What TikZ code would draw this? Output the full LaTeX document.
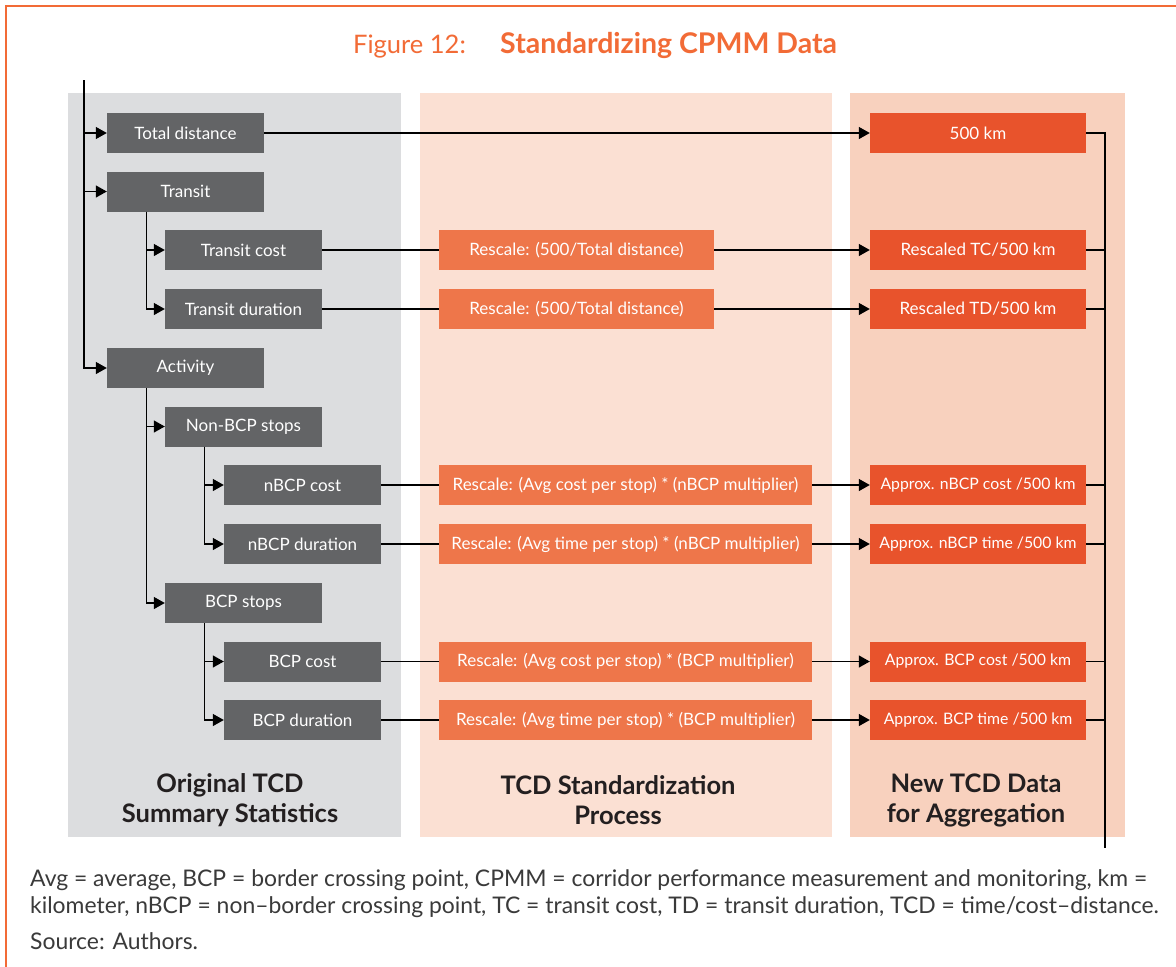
\documentclass[tikz,border=0pt]{standalone}
\usepackage{fontspec}
\setmainfont{Lato}
\usetikzlibrary{arrows.meta}

\definecolor{frameorange}{HTML}{F26B36}
\definecolor{panelgray}{HTML}{DCDDDF}
\definecolor{panelpeach}{HTML}{FBE0D3}
\definecolor{panelsalmon}{HTML}{F8D1BE}
\definecolor{boxgray}{HTML}{636466}
\definecolor{boxorange}{HTML}{EE764A}
\definecolor{boxred}{HTML}{E8532C}
\definecolor{inkdark}{HTML}{231F20}
\definecolor{notegray}{HTML}{3A3A3A}

\tikzset{
  basebox/.style={text=white, minimum height=40pt, inner sep=0pt,
    font=\fontsize{17}{20}\selectfont},
  graybox/.style={basebox, fill=boxgray, minimum width=157pt},
  rescbox/.style={basebox, fill=boxorange},
  outbox/.style={basebox, fill=boxred, minimum width=216pt},
  smalltext/.style={font=\fontsize{15.8}{19}\selectfont},
  link/.style={line width=1.3pt, draw=black},
  arrowlink/.style={link, -{Triangle[length=11pt,width=12pt]}},
  paneltitle/.style={align=center, text=inkdark,
    font=\fontsize{25.5}{30}\selectfont\bfseries},
  notetext/.style={text=notegray, inner sep=0pt,
    font=\fontsize{22.9}{27.5}\selectfont},
}

\begin{document}
\begin{tikzpicture}[x=1pt,y=-1pt]
\useasboundingbox (0,0) rectangle (1176,967);
\fill[white] (0,0) rectangle (1176,967);

% frame lines
\draw[frameorange, line width=1.5pt] (6,967) -- (6,6) -- (1176,6);

% title
\node[anchor=base west, inner sep=0pt, text=frameorange,
      font=\fontsize{25.5}{30}\selectfont] (titlenum) at (353,53) {Figure 12:};
\node[anchor=base west, inner sep=0pt, text=frameorange,
      font=\fontsize{28.5}{32}\selectfont\bfseries] (titletext) at (500,53)
  {Standardizing CPMM Data};

% column panels
\fill[panelgray]   (68,93)  rectangle (401,837);
\fill[panelpeach]  (420,93) rectangle (832,837);
\fill[panelsalmon] (850,93) rectangle (1125,837);

\node[paneltitle] (p1) at (230,800) {Original TCD\\Summary Statistics};
\node[paneltitle] (p2) at (618,800) {TCD Standardization\\Process};
\node[paneltitle] (p3) at (976,800) {New TCD Data\\for Aggregation};

% summary statistics tree
\node[graybox] (total)   at (185.5,133)   {Total distance};
\node[graybox] (transit) at (185.5,191.5) {Transit};
\node[graybox] (tcost)   at (243.5,250)   {Transit cost};
\node[graybox] (tdur)    at (243.5,309)   {Transit duration};
\node[graybox] (act)     at (185.5,368)   {Activity};
\node[graybox] (nonbcp)  at (243.5,426.5) {Non-BCP stops};
\node[graybox] (ncost)   at (302.5,485)   {nBCP cost};
\node[graybox] (ndur)    at (302.5,544)   {nBCP duration};
\node[graybox] (bcp)     at (243.5,603)   {BCP stops};
\node[graybox] (bcost)   at (302.5,661.5) {BCP cost};
\node[graybox] (bdur)    at (302.5,720)   {BCP duration};

% standardization steps
\node[rescbox, minimum width=275pt] (r1) at (576.5,250) {Rescale: (500/Total distance)};
\node[rescbox, minimum width=275pt] (r2) at (576.5,309) {Rescale: (500/Total distance)};
\node[rescbox, minimum width=373pt] (r3) at (625.5,485) {Rescale: (Avg cost per stop) * (nBCP multiplier)};
\node[rescbox, minimum width=373pt] (r4) at (625.5,544) {Rescale: (Avg time per stop) * (nBCP multiplier)};
\node[rescbox, minimum width=373pt] (r5) at (625.5,661.5) {Rescale: (Avg cost per stop) * (BCP multiplier)};
\node[rescbox, minimum width=373pt] (r6) at (625.5,720) {Rescale: (Avg time per stop) * (BCP multiplier)};

% output data
\node[outbox] (o0) at (978,133)   {500 km};
\node[outbox] (o1) at (978,250)   {Rescaled TC/500 km};
\node[outbox] (o2) at (978,309)   {Rescaled TD/500 km};
\node[outbox, smalltext] (o3) at (978,485)   {Approx. nBCP cost /500 km};
\node[outbox, smalltext] (o4) at (978,544)   {Approx. nBCP time /500 km};
\node[outbox, smalltext] (o5) at (978,661.5) {Approx. BCP cost /500 km};
\node[outbox, smalltext] (o6) at (978,720)   {Approx. BCP time /500 km};

% tree connectors
\coordinate (trunk) at (84,80);
\draw[arrowlink] (trunk) |- (act.west);
\draw[arrowlink] (trunk |- total.west) -- (total.west);
\draw[arrowlink] (trunk |- transit.west) -- (transit.west);
\draw[arrowlink] ([xshift=40pt]transit.south west) |- (tcost.west);
\draw[arrowlink] ([xshift=40pt]transit.south west) |- (tdur.west);
\draw[arrowlink] ([xshift=40pt]act.south west) |- (nonbcp.west);
\draw[arrowlink] ([xshift=40pt]act.south west) |- (bcp.west);
\draw[arrowlink] ([xshift=40pt]nonbcp.south west) |- (ncost.west);
\draw[arrowlink] ([xshift=40pt]nonbcp.south west) |- (ndur.west);
\draw[arrowlink] ([xshift=40pt]bcp.south west) |- (bcost.west);
\draw[arrowlink] ([xshift=40pt]bcp.south west) |- (bdur.west);

% flow to standardized data
\draw[arrowlink] (total.east) -- (o0.west);
\draw[link] (tcost.east) -- (r1.west);  \draw[arrowlink] (r1.east) -- (o1.west);
\draw[link] (tdur.east)  -- (r2.west);  \draw[arrowlink] (r2.east) -- (o2.west);
\draw[link] (ncost.east) -- (r3.west);  \draw[arrowlink] (r3.east) -- (o3.west);
\draw[link] (ndur.east)  -- (r4.west);  \draw[arrowlink] (r4.east) -- (o4.west);
\draw[link] (bcost.east) -- (r5.west);  \draw[arrowlink] (r5.east) -- (o5.west);
\draw[link] (bdur.east)  -- (r6.west);  \draw[arrowlink] (r6.east) -- (o6.west);

% collecting bus on the right
\coordinate (bus) at (1105,848);
\draw[link] (o0.east) -| (bus);
\foreach \n in {o1,o2,o3,o4,o5,o6}
  \draw[link] (\n.east) -- (\n.east -| bus);

% notes
\node[notetext, anchor=base west] (noteone) at (30,886)
  {Avg = average, BCP = border crossing point, CPMM = corridor performance measurement and monitoring, km =};
\node[notetext, anchor=base west] (notetwo) at (30,913)
  {kilometer, nBCP = non--border crossing point, TC = transit cost, TD = transit duration, TCD = time/cost--distance.};
\node[notetext, anchor=base west] (source) at (30,949) {Source: Authors.};
\end{tikzpicture}
\end{document}
